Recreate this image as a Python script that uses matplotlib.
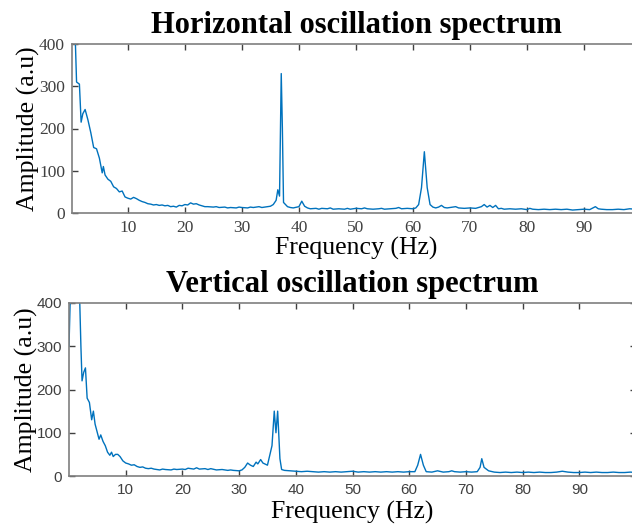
import numpy as np
import matplotlib.pyplot as plt

# horizontal spectrum (Hz, a.u)
h_freq = [0.2, 0.5, 0.8, 1.0, 1.5, 1.8, 2.1, 2.5, 3.0, 3.5, 4.0, 4.5, 5.0, 5.5, 5.7,
          6.0, 6.5, 7.0, 7.5, 8.0, 8.5, 9.0, 9.5, 10.0, 10.5, 11.0, 11.5, 12.0,
          12.5, 13.0, 13.5, 14.0, 14.5, 15.0, 15.5, 16.0, 16.5, 17.0, 17.5, 18.0,
          18.5, 19.0, 19.5, 20.0, 20.5, 21.0, 21.5, 22.0, 22.5, 23.0, 23.5, 24.0,
          25.0, 25.5, 26.0, 27.0, 27.5, 28.0, 29.0, 29.5, 30.0, 31.0, 31.5, 32.0,
          33.0, 33.5, 34.0, 35.0, 35.5, 36.0, 36.3, 36.6,
          36.9, 37.1, 37.3, 38.0, 38.5, 39.0, 40.0, 40.5, 41.0, 41.5, 42.0, 43.0,
          43.5, 44.0, 45.0, 45.5, 46.0, 47.0, 48.0, 48.5, 49.0, 50.0, 51.0, 51.5,
          52.0, 53.0, 54.0, 54.5, 55.0, 56.0, 57.0, 57.5, 58.0, 59.0, 60.0, 60.5,
          61.0, 61.5, 62.0, 62.5, 63.0, 63.5, 64.0, 64.5, 65.0, 65.5, 66.0, 67.0,
          67.5, 68.0, 69.0, 70.0, 71.0, 72.0, 72.5, 73.0, 73.5, 74.0, 74.5, 75.0,
          75.5, 76.0, 77.0, 78.0, 79.0, 80.0, 80.5, 81.0, 82.0, 83.0, 84.0, 85.0,
          86.0, 87.0, 88.0, 89.0, 90.0, 91.0, 92.0, 92.5, 93.0, 94.0, 95.0, 96.0,
          97.0, 98.0, 99.0, 100.0]
h_amp = [450, 420, 400, 310, 305, 215, 235, 245, 220, 190, 155, 152, 130, 95, 110,
         90, 80, 75, 62, 58, 50, 52, 38, 35, 33, 37, 34, 30,
         27, 25, 22, 21, 19, 20, 18, 19, 17, 18, 15, 16,
         14, 18, 17, 20, 19, 24, 21, 22, 19, 17, 15, 15,
         14, 15, 13, 14, 12, 13, 12, 14, 13, 12, 14, 13,
         15, 13, 14, 16, 20, 30, 55, 40,
         330, 200, 25, 15, 13, 12, 15, 28, 16, 12, 10, 11,
         9, 11, 10, 12, 9, 10, 9, 11, 9, 11, 10, 12,
         10, 9, 10, 11, 9, 10, 11, 13, 10, 11, 10, 12,
         20, 60, 145, 60, 20, 14, 12, 14, 18, 13, 12, 14,
         15, 12, 11, 12, 11, 15, 20, 14, 18, 13, 18, 10,
         11, 9, 10, 9, 10, 8, 11, 9, 8, 9, 8, 9,
         8, 9, 7, 8, 9, 8, 15, 10, 9, 8, 8, 9,
         8, 10, 9, 8]

# vertical spectrum
v_freq = [0.0, 0.3, 1.8, 2.1, 2.3, 2.6, 2.9, 3.2, 3.6, 4.0, 4.3, 4.6, 5.0, 5.3,
          5.6, 6.0, 6.4, 6.8, 7.2, 7.5, 7.8, 8.2, 8.6, 9.0, 9.5, 10.0, 10.5, 11.0,
          11.5, 12.0, 12.5, 13.0, 13.5, 14.0, 14.5, 15.0, 16.0, 16.5, 17.0, 18.0,
          18.5, 19.0, 20.0, 20.5, 21.0, 22.0, 22.5, 23.0, 24.0, 24.5, 25.0, 26.0,
          27.0, 28.0, 28.5, 29.0, 30.0, 30.5, 31.0,
          31.5, 32.0, 32.5, 33.0, 33.3, 33.8, 34.2, 35.0, 35.8, 36.2, 36.5, 36.8,
          37.2, 37.5, 38.0, 39.0, 40.0, 41.0, 42.0, 43.0, 44.0, 45.0, 46.0, 47.0,
          48.0, 49.0, 50.0, 51.0, 52.0, 53.0, 54.0, 55.0, 56.0, 57.0, 58.0, 59.0,
          60.0, 61.0, 61.5, 62.0, 62.5, 63.0, 64.0, 65.0, 66.0, 67.0, 67.5, 68.0,
          69.0, 70.0, 71.0, 72.0, 72.5, 72.8, 73.2, 74.0, 75.0, 76.0, 77.0, 78.0,
          79.0, 80.0, 81.0, 82.0, 83.0, 84.0, 85.0, 86.0, 87.0, 88.0, 89.0, 90.0,
          91.0, 92.0, 93.0, 94.0, 95.0, 96.0, 97.0, 98.0, 99.0, 100.0]
v_amp = [300, 450, 450, 300, 220, 240, 250, 180, 170, 130, 150, 120, 100, 85,
         95, 80, 70, 55, 48, 55, 45, 50, 50, 45, 35, 30, 28, 25,
         26, 22, 20, 21, 18, 17, 18, 16, 14, 16, 15, 14,
         16, 15, 16, 15, 18, 16, 19, 16, 17, 15, 17, 14,
         15, 13, 14, 13, 12, 14, 20,
         30, 25, 22, 32, 28, 38, 30, 25, 70, 150, 100, 150,
         40, 15, 13, 12, 11, 10, 11, 10, 9, 10, 9, 10,
         9, 10, 11, 9, 10, 9, 10, 9, 10, 9, 10, 9,
         10, 10, 25, 50, 25, 10, 9, 12, 9, 10, 12, 10,
         9, 10, 9, 10, 20, 40, 20, 12, 9, 8, 9, 8,
         9, 8, 9, 8, 9, 8, 8, 9, 11, 9, 8, 8,
         9, 8, 9, 8, 8, 9, 8, 8, 9, 8]

line_col = '#0072BD'
spine_col = '#7f7f7f'
serif = ['Liberation Serif', 'DejaVu Serif']
sans = ['Liberation Sans', 'DejaVu Sans']

fig = plt.figure(figsize=(6.32, 5.25), dpi=100)
ax1 = fig.add_axes([72/632, 1-213/525, 569/632, 169/525])
ax2 = fig.add_axes([69/632, 1-476/525, 567/632, 173/525])

panels = [(ax1, h_freq, h_amp, 'Horizontal oscillation spectrum', 0.2, serif, 12.5, 1),
          (ax2, v_freq, v_amp, 'Vertical oscillation spectrum', 0.0, sans, 11, 3)]

for ax, f, a, title, x0, tfont, tsize, xpad in panels:
    ax.plot(f, a, color=line_col, lw=1.0)
    ax.set_xlim(x0, 100)
    ax.set_ylim(0, 400)
    ax.set_xticks(np.arange(10, 100, 10))
    ax.set_yticks(np.arange(0, 401, 100))
    ax.tick_params(direction='in', length=4, width=1, colors='#404040',
                   top=True, right=True, labelsize=tsize, pad=5)
    for lab in ax.get_xticklabels() + ax.get_yticklabels():
        lab.set_family(tfont)
        lab.set_color('#404040')
    for s in ax.spines.values():
        s.set_color(spine_col)
        s.set_linewidth(1.2)
    ax.set_title(title, family=serif, fontweight='bold', fontsize=22, pad=8)
    ax.set_xlabel('Frequency (Hz)', family=serif, fontsize=18.5, labelpad=xpad)
    ax.set_ylabel('Amplitude (a.u)', family=serif, fontsize=18.5, labelpad=-1)

fig.savefig('out.png', dpi=100)
